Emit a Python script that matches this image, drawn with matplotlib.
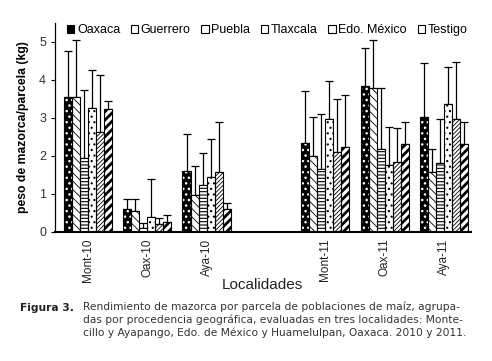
import matplotlib
matplotlib.use("Agg")
import matplotlib.pyplot as plt
from matplotlib.patches import Rectangle
import numpy as np

localidades = ["Mont-10", "Oax-10", "Aya-10", "", "Mont-11", "Oax-11", "Aya-11"]
series = ["Oaxaca", "Guerrero", "Puebla", "Tlaxcala", "Edo. México", "Testigo"]

# means per series across localities (blank slot = None)
oaxaca   = [3.55, 0.59, 1.61, None, 2.34, 3.84, 3.03]
guerrero = [3.55, 0.55, 0.96, None, 1.99, 3.77, 1.58]
puebla   = [1.93, 0.10, 1.23, None, 1.64, 2.17, 1.82]
tlaxcala = [3.25, 0.39, 1.43, None, 2.97, 1.76, 3.35]
edomex   = [2.62, 0.20, 1.58, None, 2.11, 1.84, 2.98]
testigo  = [3.23, 0.26, 0.59, None, 2.23, 2.31, 2.31]

# upper error bar tips
oaxaca_top   = [4.75, 0.85, 2.57, None, 3.70, 4.84, 4.43]
guerrero_top = [5.04, 0.87, 1.73, None, 3.01, 5.04, 2.19]
puebla_top   = [3.73, 0.24, 2.08, None, 3.09, 3.77, 2.97]
tlaxcala_top = [4.25, 1.40, 2.43, None, 3.97, 2.76, 4.34]
edomex_top   = [4.12, 0.35, 2.89, None, 3.49, 2.72, 4.46]
testigo_top  = [3.43, 0.44, 0.76, None, 3.60, 2.89, 2.89]

values = [oaxaca, guerrero, puebla, tlaxcala, edomex, testigo]
tops = [oaxaca_top, guerrero_top, puebla_top, tlaxcala_top, edomex_top, testigo_top]

yticks = [0, 1, 2, 3, 4, 5]

styles = [
    dict(face="black", hatch="...", hcolor="white", hlw=1.0),
    dict(face="white", hatch="\\\\\\\\", hcolor="black", hlw=0.6),
    dict(face="white", hatch="-----", hcolor="black", hlw=0.8),
    dict(face="white", hatch="...", hcolor="black", hlw=0.8),
    dict(face="white", hatch="////////", hcolor="black", hlw=0.6),
    dict(face="white", hatch="////", hcolor="black", hlw=2.0),
]

plt.rcParams['font.family'] = ['Liberation Sans', 'DejaVu Sans']
fig = plt.figure(figsize=(4.92, 3.61), dpi=100)
ax = fig.add_axes([0.112, 0.358, 0.845, 0.579])

n = len(series)
bw = 0.135
x = np.arange(len(localidades))
handles = []
for i, (vals, tp, st) in enumerate(zip(values, tops, styles)):
    idx = [k for k, v in enumerate(vals) if v is not None]
    xs = x[idx] + (i - (n - 1) / 2) * bw
    v = np.array([vals[k] for k in idx])
    t = np.array([tp[k] for k in idx])
    with plt.rc_context({'hatch.linewidth': st["hlw"], 'hatch.color': st["hcolor"]}):
        ax.bar(xs, v, bw, facecolor=st["face"], edgecolor=st["hcolor"],
               hatch=st["hatch"], linewidth=0, zorder=2)
    ax.bar(xs, v, bw, facecolor="none", edgecolor="black", linewidth=0.8, zorder=3)
    ax.errorbar(xs, v, yerr=[np.zeros_like(v), t - v], fmt="none", ecolor="black",
                elinewidth=0.9, capsize=3, capthick=0.9, zorder=1)
    h = Rectangle((0, 0), 1, 1, facecolor=st["face"], edgecolor="black",
                  hatch=None, linewidth=0.8)
    handles.append(h)

ax.set_xlim(-0.55, 6.45)
ax.set_ylim(0, 5.5)
ax.set_yticks(yticks)
ax.set_yticklabels([str(t) for t in yticks], fontsize=9, color="#333333")
ax.set_xticks([k for k, l in enumerate(localidades) if l])
ax.set_xticklabels([l for l in localidades if l], rotation=90, fontsize=8.5, color="#222222")
ax.tick_params(axis="x", length=0, pad=5)
ax.tick_params(axis="y", direction="out", length=3, width=0.8)
for s in ["top", "right"]:
    ax.spines[s].set_visible(False)
ax.spines["left"].set_linewidth(0.9)
ax.spines["bottom"].set_linewidth(1.5)
ax.set_ylabel("peso de mazorca/parcela (kg)", fontsize=8.8, fontweight="bold", labelpad=7)

fig.text(262 / 492, 1 - 285 / 361, "Localidades", fontsize=11, ha="center", va="center",
         color="#222222")

ax.legend(handles, series, loc="center", bbox_to_anchor=(0.51, 0.965), ncol=6,
          frameon=False, fontsize=9, handlelength=0.6, handleheight=0.6,
          handletextpad=0.2, columnspacing=0.85, borderaxespad=0)

fig.text(0.04, 1 - 311 / 361, "Figura 3.", fontsize=7.7, fontweight="bold",
         family="DejaVu Sans", va="baseline", color="#222222")
cap = ("Rendimiento de mazorca por parcela de poblaciones de maíz, agrupa-\n"
       "das por procedencia geográfica, evaluadas en tres localidades: Monte-\n"
       "cillo y Ayapango, Edo. de México y Huamelulpan, Oaxaca. 2010 y 2011.")
fig.text(0.168, 1 - 301 / 361, cap, fontsize=7.65, family="DejaVu Sans", va="top",
         linespacing=1.3, color="#333333")

fig.savefig("out.png", dpi=100)
